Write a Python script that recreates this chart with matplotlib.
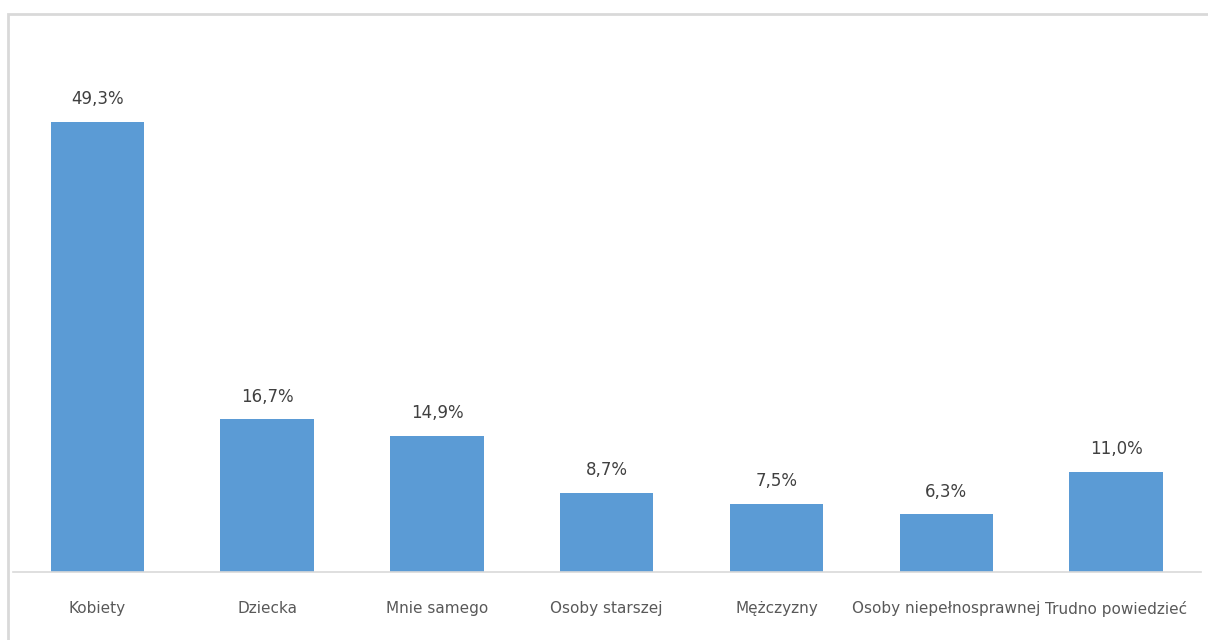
import matplotlib.pyplot as plt
from matplotlib.patches import Rectangle

categories = ["Kobiety", "Dziecka", "Mnie samego", "Osoby starszej",
              "Mężczyzny", "Osoby niepełnosprawnej", "Trudno powiedzieć"]
values = [49.3, 16.7, 14.9, 8.7, 7.5, 6.3, 11.0]
value_labels = ["49,3%", "16,7%", "14,9%", "8,7%", "7,5%", "6,3%", "11,0%"]

W, H = 1208, 640
fig = plt.figure(figsize=(W / 100, H / 100), dpi=100)

# chart area border (only top and left visible in the reference)
fig.add_artist(Rectangle((8 / W, -0.1), 1.2, 1 - 14 / H + 0.1,
                         transform=fig.transFigure, fill=False,
                         edgecolor="#d9d9d9", linewidth=2))

ax = fig.add_axes([12.5 / W, (H - 572) / H, (1201 - 12.5) / W, 548 / H])
x = range(len(categories))
ax.bar(x, values, width=0.55, color="#5b9bd5")
ax.set_xlim(-0.5, len(categories) - 0.5)
ax.set_ylim(0, 60)

for i, (v, lab) in enumerate(zip(values, value_labels)):
    ax.annotate(lab, (i, v), xytext=(0, 10), textcoords="offset points",
                ha="center", va="bottom", fontsize=12, color="#404040")

ax.set_xticks(list(x))
ax.set_xticklabels(categories, fontsize=11, color="#595959")
ax.tick_params(axis="x", length=0, pad=21)
ax.set_yticks([])
for s in ["top", "right", "left"]:
    ax.spines[s].set_visible(False)
ax.spines["bottom"].set_color("#d9d9d9")
ax.spines["bottom"].set_linewidth(1.2)

fig.savefig("out.png", dpi=100)
